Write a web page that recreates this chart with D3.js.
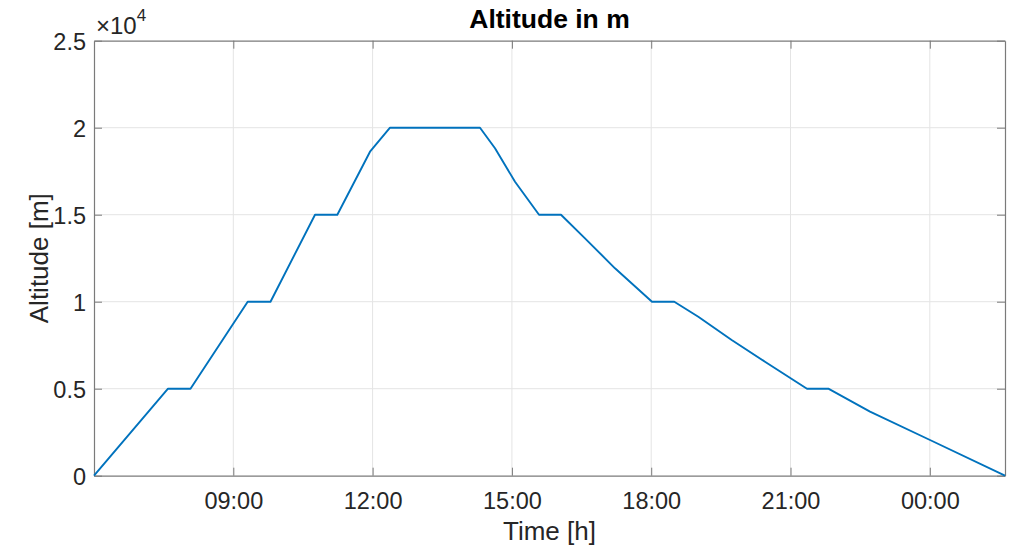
<!DOCTYPE html>
<html>
<head>
<meta charset="utf-8">
<script src="https://cdn.jsdelivr.net/npm/d3@7"></script>
<style>
  html, body { margin: 0; padding: 0; background: #fff; }
  svg { display: block; font-family: "Liberation Sans", Arial, Helvetica, sans-serif; }
</style>
</head>
<body>
<svg id="chart" width="1015" height="547"></svg>
<script>
// Time in hours after midnight of the launch day (values > 24 are next day)
const timeHours = [6.000, 7.594, 8.078, 9.310, 9.801, 10.760, 11.240, 11.944, 12.375,
                   14.313, 14.636, 15.067, 15.584, 16.057, 16.574, 17.220, 18.017, 18.497,
                   19.014, 19.733, 20.450, 21.355, 21.814, 22.712, 24.004, 25.619];
// Altitude in metres
const altitudeM = [0, 5000, 5000, 10000, 10000, 15000, 15000, 18620, 20000,
                   20000, 18816, 16897, 15000, 15000, 13643, 11919, 10000, 10000,
                   9138, 7799, 6552, 5000, 5000, 3678, 2052, 0];

const xTickValues = [9, 12, 15, 18, 21, 24];
const xTickLabels = ["09:00", "12:00", "15:00", "18:00", "21:00", "00:00"];
const yTickValues = [0, 5000, 10000, 15000, 20000, 25000];
const yTickLabels = ["0", "0.5", "1", "1.5", "2", "2.5"];

const titleText = "Altitude in m";
const xLabelText = "Time [h]";
const yLabelText = "Altitude [m]";

const svg = d3.select("#chart");
const margin = { left: 94, right: 10, top: 40.7, bottom: 71.3 };
const W = 1015, H = 547;
const x0 = margin.left, x1 = W - margin.right, y0 = H - margin.bottom, y1 = margin.top;

const x = d3.scaleLinear().domain([timeHours[0], timeHours[timeHours.length - 1]]).range([x0, x1]);
const y = d3.scaleLinear().domain([0, 25000]).range([y0, y1]);

const axisColor = "#7a7a7a";
const textColor = "#262626";
const gridColor = "#e4e4e4";

// Grid
const grid = svg.append("g");
grid.selectAll("line.gx").data(xTickValues).join("line")
  .attr("x1", d => x(d)).attr("x2", d => x(d))
  .attr("y1", y0).attr("y2", y1)
  .attr("stroke", gridColor).attr("stroke-width", 1);
grid.selectAll("line.gy").data(yTickValues.slice(1, -1)).join("line")
  .attr("x1", x0).attr("x2", x1)
  .attr("y1", d => y(d)).attr("y2", d => y(d))
  .attr("stroke", gridColor).attr("stroke-width", 1);

// Axes (inward ticks)
const xAxis = d3.axisBottom(x).tickValues(xTickValues)
  .tickFormat((d, i) => xTickLabels[i]).tickSizeInner(-8).tickSizeOuter(0).tickPadding(17);
const yAxis = d3.axisLeft(y).tickValues(yTickValues)
  .tickFormat((d, i) => yTickLabels[i]).tickSizeInner(-8).tickSizeOuter(0).tickPadding(17);

const gx = svg.append("g").attr("transform", `translate(0,${y0})`).call(xAxis);
const gy = svg.append("g").attr("transform", `translate(${x0},0)`).call(yAxis);
const gxTop = svg.append("g").attr("transform", `translate(0,${y1})`)
  .call(d3.axisTop(x).tickValues(xTickValues).tickFormat("").tickSizeInner(-8).tickSizeOuter(0));
const gyRight = svg.append("g").attr("transform", `translate(${x1},0)`)
  .call(d3.axisRight(y).tickValues(yTickValues).tickFormat("").tickSizeInner(-8).tickSizeOuter(0));

[gx, gy, gxTop, gyRight].forEach(g => {
  g.select(".domain").attr("stroke", axisColor).attr("stroke-width", 1.2);
  g.selectAll(".tick line").attr("stroke", axisColor).attr("stroke-width", 1);
  g.selectAll(".tick text").attr("fill", textColor).style("font-size", "23.5px")
    .style("font-family", "'Liberation Sans', Arial, sans-serif");
});
gx.selectAll(".tick text").attr("dy", "0.71em");
gy.selectAll(".tick text").attr("dy", "0.36em").attr("x", -8);

// Data line (straight segments between read points)
const line = d3.line().x((d, i) => x(timeHours[i])).y(d => y(d));
svg.append("path").datum(altitudeM)
  .attr("d", line)
  .attr("fill", "none")
  .attr("stroke", "#0072BD")
  .attr("stroke-width", 1.9)
  .attr("stroke-linejoin", "round");

// Exponent label
const expo = svg.append("text").attr("x", 96).attr("y", 34)
  .attr("fill", textColor).style("font-size", "24px");
expo.append("tspan").text("\u00D710");
expo.append("tspan").attr("dy", -13).style("font-size", "17px").text("4");

// Title
svg.append("text").attr("x", (x0 + x1) / 2).attr("y", 28)
  .attr("text-anchor", "middle").attr("fill", "#000")
  .style("font-size", "26.5px").style("font-weight", "bold").text(titleText);

// X label
svg.append("text").attr("x", (x0 + x1) / 2).attr("y", 540)
  .attr("text-anchor", "middle").attr("fill", textColor)
  .style("font-size", "26px").text(xLabelText);

// Y label
svg.append("text")
  .attr("transform", `translate(48,${(y0 + y1) / 2}) rotate(-90)`)
  .attr("text-anchor", "middle").attr("fill", textColor)
  .style("font-size", "26px").text(yLabelText);
</script>
</body>
</html>
